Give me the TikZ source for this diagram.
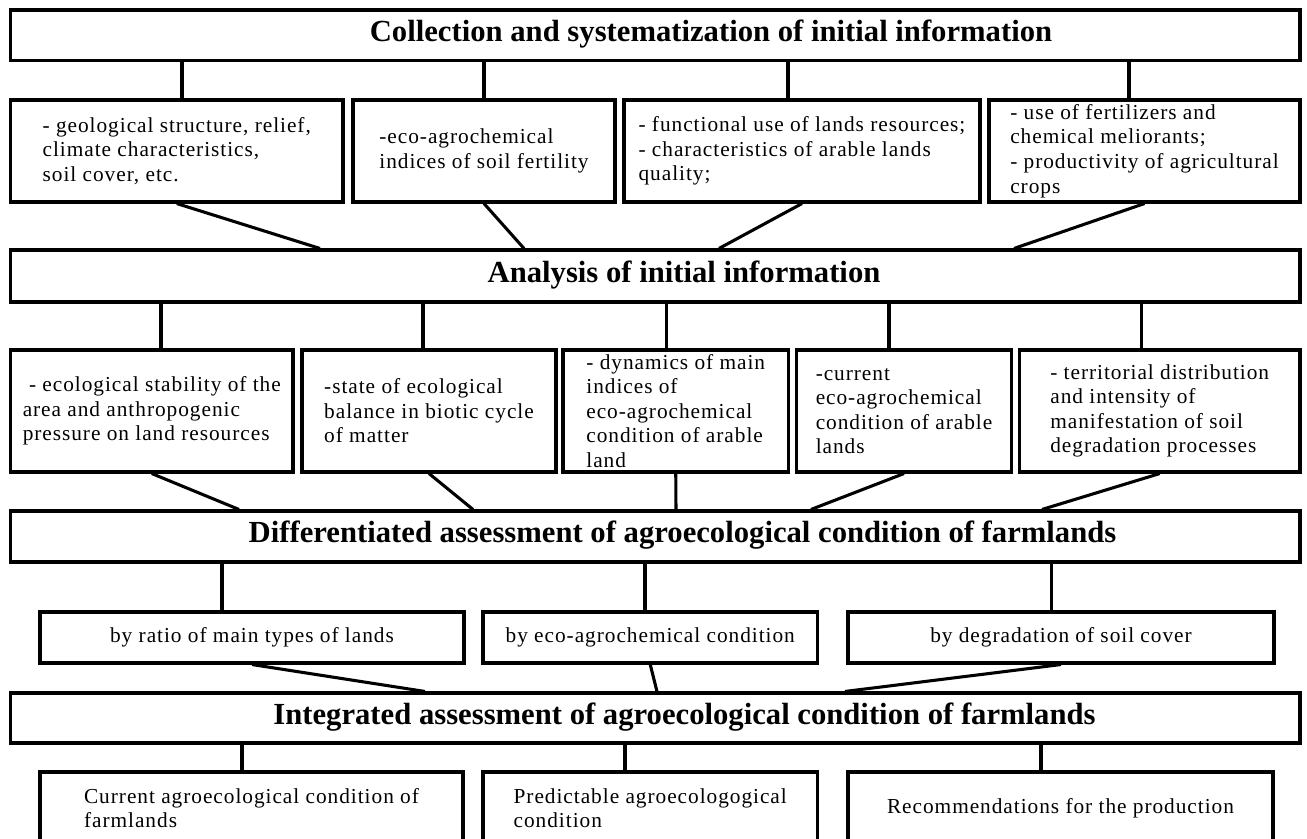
\documentclass[tikz,border=0pt]{standalone}
\usepackage{fontspec}
\setmainfont{Liberation Serif}
\newfontfamily\cellfam[LetterSpace=4.5]{Liberation Serif}
\newcommand\cellfont{\cellfam\fontsize{16}{18.4}\selectfont}
\newcommand\headfont{\fontsize{23}{27}\selectfont\bfseries}
\newdimen\pxu
\pxu=0.75pt
\tikzset{
	cell/.style 2 args={draw, align=left, font=\cellfont, inner sep=0pt,
		minimum width=#1\pxu, minimum height=#2\pxu},
	head/.style={font=\headfont, inner sep=0pt}
}

\begin{document}
\begin{tikzpicture}[x=0.75pt, y=-0.75pt, line width=2.3pt]
	\useasboundingbox (0,0) rectangle (1307,839);
	\node[cell={1289.5}{50.5}] (collect) at (655.25,35.25) {};
	\node[head] (collectT) at (711,34) {Collection and systematization of initial information};
	\node[cell={332.5}{102}] (geology) at (176.75,151) {- geological structure, relief,\\climate characteristics,\\soil cover, etc.};
	\node[cell={262}{102}] (fertility) at (484,151) {-eco-agrochemical\\indices of soil fertility};
	\node[cell={356}{102}] (landuse) at (802,151) {- functional use of lands resources;\\- characteristics of arable lands\\quality;};
	\node[cell={311}{102}] (fertilizer) at (1144.5,151) {- use of fertilizers and\\chemical meliorants;\\- productivity of agricultural\\crops};
	\node[cell={1289.5}{52}] (analysis) at (655.25,276) {};
	\node[head] (analysisT) at (684,275) {Analysis of initial information};
	\node[cell={282.5}{122}] (stability) at (151.75,411) {~- ecological stability of the\\area and anthropogenic\\pressure on land resources};
	\node[cell={254}{122}] (balance) at (429,411) {-state of ecological\\balance in biotic cycle\\of matter};
	\node[cell={225.5}{122}] (dynamics) at (675.75,411) {- dynamics of main\\indices of\\eco-agrochemical\\condition of arable\\land};
	\node[cell={215}{122}] (current) at (904,411) {-current\\eco-agrochemical\\condition of arable\\lands};
	\node[cell={280.5}{122}] (degrad) at (1159.75,411) {- territorial distribution\\and intensity of\\manifestation of soil\\degradation processes};
	\node[cell={1289.5}{51}] (diff) at (655.25,536.5) {};
	\node[head] (diffT) at (682.5,535) {Differentiated assessment of agroecological condition of farmlands};
	\node[cell={424}{51}] (ratio) at (252,637.5) {by ratio of main types of lands};
	\node[cell={334.5}{51}] (ecochem) at (650.25,637.5) {by eco-agrochemical condition};
	\node[cell={426}{51}] (soilcover) at (1061,637.5) {by degradation of soil cover};
	\node[cell={1289.5}{50}] (integ) at (655.25,718) {};
	\node[head] (integT) at (684.5,717) {Integrated assessment of agroecological condition of farmlands};
	\node[cell={423}{72}] (nowcond) at (251.5,808) {Current agroecological condition of\\farmlands};
	\node[cell={334.5}{72}] (predict) at (650.25,808) {Predictable agroecologogical\\condition};
	\node[cell={425}{72}] (recommend) at (1060.5,808) {Recommendations for the production};
	\draw (collect.south -| 182,0) -- (geology.north -| 182,0);
	\draw (collect.south -| 484,0) -- (fertility.north -| 484,0);
	\draw (collect.south -| 788,0) -- (landuse.north -| 788,0);
	\draw (collect.south -| 1129,0) -- (fertilizer.north -| 1129,0);
	\draw (geology.south) -- (analysis.north -| 320,0);
	\draw (fertility.south) -- (analysis.north -| 524,0);
	\draw (landuse.south) -- (analysis.north -| 719,0);
	\draw (fertilizer.south) -- (analysis.north -| 1014,0);
	\draw (analysis.south -| 161,0) -- (stability.north -| 161,0);
	\draw (analysis.south -| 423,0) -- (balance.north -| 423,0);
	\draw (analysis.south -| 666.5,0) -- (dynamics.north -| 666.5,0);
	\draw (analysis.south -| 889,0) -- (current.north -| 889,0);
	\draw (analysis.south -| 1141.5,0) -- (degrad.north -| 1141.5,0);
	\draw (stability.south) -- (diff.north -| 239,0);
	\draw (balance.south) -- (diff.north -| 473,0);
	\draw (dynamics.south) -- (diff.north -| 676,0);
	\draw (current.south) -- (diff.north -| 811,0);
	\draw (degrad.south) -- (diff.north -| 1042,0);
	\draw (diff.south -| 222,0) -- (ratio.north -| 222,0);
	\draw (diff.south -| 645,0) -- (ecochem.north -| 645,0);
	\draw (diff.south -| 1051.5,0) -- (soilcover.north -| 1051.5,0);
	\draw (ratio.south) -- (integ.north -| 425,0);
	\draw (ecochem.south) -- (integ.north -| 657,0);
	\draw (soilcover.south) -- (integ.north -| 845,0);
	\draw (integ.south -| 242,0) -- (nowcond.north -| 242,0);
	\draw (integ.south -| 625,0) -- (predict.north -| 625,0);
	\draw (integ.south -| 1041,0) -- (recommend.north -| 1041,0);
\end{tikzpicture}
\end{document}
